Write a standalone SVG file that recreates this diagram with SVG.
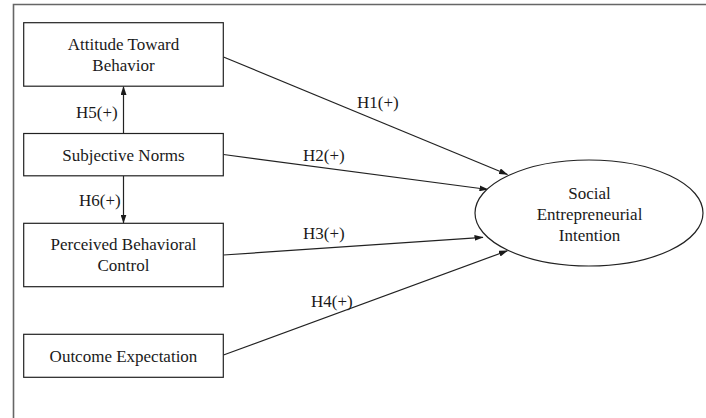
<svg xmlns="http://www.w3.org/2000/svg" width="706" height="418" viewBox="0 0 706 418">
<defs>
<marker id="arr" markerWidth="9" markerHeight="6" refX="8.5" refY="3" orient="auto" markerUnits="userSpaceOnUse">
<path d="M0,0 L9,3 L0,6 z" fill="#1a1a1a"/>
</marker>
<style>
.box{fill:#fff;stroke:#222;stroke-width:1.2}
.t{font-family:"Liberation Serif","Times New Roman",serif;font-size:17px;fill:#1a1a1a;text-anchor:middle}
.l{font-family:"Liberation Serif","Times New Roman",serif;font-size:17px;fill:#1a1a1a}
.c{stroke:#222;stroke-width:1.2;fill:none;marker-end:url(#arr)}
</style>
</defs>
<rect width="706" height="418" fill="#fff"/>
<g id="frame">
<path d="M13.5,418 L13.5,4.5 L706,4.5" fill="none" stroke="#666" stroke-width="1.6"/>
</g>
<g id="connectors">
<line class="c" x1="123.5" y1="133.5" x2="123.5" y2="86.5"/>
<line class="c" x1="123.5" y1="176" x2="123.5" y2="223"/>
<line class="c" x1="223.5" y1="57" x2="507.5" y2="174.5"/>
<line class="c" x1="223.5" y1="154.5" x2="488" y2="189.5"/>
<line class="c" x1="223.5" y1="255" x2="483" y2="237.3"/>
<line class="c" x1="223.5" y1="355" x2="507.5" y2="250.7"/>
<text class="l" x="76" y="117.5">H5(+)</text>
<text class="l" x="79" y="206">H6(+)</text>
<text class="l" x="357" y="108">H1(+)</text>
<text class="l" x="303" y="160.5">H2(+)</text>
<text class="l" x="303" y="238.5">H3(+)</text>
<text class="l" x="311" y="306.5">H4(+)</text>
</g>
<g id="attitude">
<rect class="box" x="23.7" y="22.7" width="199.6" height="63.5"/>
<text class="t" x="123.5" y="49.5">Attitude Toward</text>
<text class="t" x="123.5" y="70.5">Behavior</text>
</g>
<g id="subjective">
<rect class="box" x="23.7" y="133.5" width="199.6" height="42.3"/>
<text class="t" x="123.5" y="160.5">Subjective Norms</text>
</g>
<g id="perceived">
<rect class="box" x="23.7" y="223.3" width="199.6" height="63.4"/>
<text class="t" x="123.5" y="250">Perceived Behavioral</text>
<text class="t" x="123.5" y="271">Control</text>
</g>
<g id="outcome">
<rect class="box" x="23.7" y="334.3" width="199.6" height="43"/>
<text class="t" x="123.5" y="361.7">Outcome Expectation</text>
</g>
<g id="intention">
<ellipse class="box" cx="589" cy="213" rx="114" ry="53"/>
<text class="t" x="589.5" y="198.5">Social</text>
<text class="t" x="589.5" y="220">Entrepreneurial</text>
<text class="t" x="589.5" y="240.5">Intention</text>
</g>
</svg>
